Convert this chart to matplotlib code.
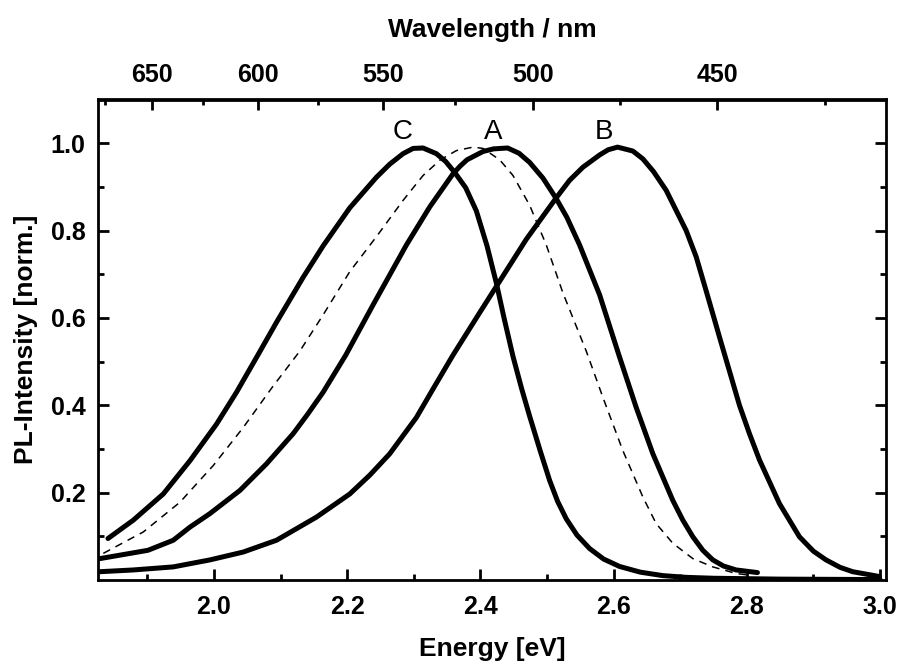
import matplotlib
matplotlib.use('Agg')
import matplotlib.pyplot as plt
import numpy as np

plt.rcParams['font.family'] = ['Liberation Sans', 'DejaVu Sans']
plt.rcParams['font.weight'] = 'bold'

# ---- data ----
C_E = [1.841, 1.879, 1.924, 1.964, 2.004, 2.034, 2.066, 2.094, 2.134, 2.164, 2.204, 2.244,
       2.264, 2.284, 2.299, 2.314, 2.334, 2.348, 2.362, 2.378, 2.394, 2.410, 2.424, 2.436,
       2.449, 2.462, 2.474, 2.490, 2.504, 2.516, 2.529, 2.545, 2.564, 2.585, 2.609, 2.640,
       2.674, 2.710, 2.750, 2.850, 3.000]
C_I = [0.095, 0.137, 0.197, 0.273, 0.357, 0.430, 0.515, 0.590, 0.693, 0.765, 0.852, 0.922,
       0.952, 0.976, 0.988, 0.989, 0.976, 0.958, 0.932, 0.898, 0.845, 0.765, 0.680, 0.597,
       0.512, 0.438, 0.375, 0.295, 0.228, 0.180, 0.140, 0.103, 0.072, 0.048, 0.031, 0.018,
       0.010, 0.006, 0.004, 0.002, 0.001]

D_E = [1.834, 1.894, 1.949, 1.999, 2.044, 2.087, 2.129, 2.164, 2.204, 2.244, 2.284, 2.314,
       2.340, 2.364, 2.389, 2.404, 2.429, 2.449, 2.474, 2.499, 2.524, 2.559, 2.584, 2.614,
       2.644, 2.664, 2.689, 2.719, 2.749, 2.784, 2.804]
D_I = [0.061, 0.110, 0.178, 0.262, 0.349, 0.440, 0.524, 0.607, 0.706, 0.786, 0.869, 0.926,
       0.962, 0.983, 0.991, 0.988, 0.962, 0.926, 0.858, 0.767, 0.657, 0.524, 0.418, 0.296,
       0.190, 0.129, 0.084, 0.049, 0.030, 0.015, 0.011]

A_E = [1.829, 1.901, 1.939, 1.964, 1.994, 2.039, 2.079, 2.119, 2.140, 2.164, 2.198, 2.239,
       2.289, 2.324, 2.359, 2.370, 2.380, 2.404, 2.420, 2.441, 2.458, 2.474, 2.494, 2.514,
       2.530, 2.549, 2.579, 2.608, 2.634, 2.659, 2.689, 2.704, 2.719, 2.734, 2.749, 2.765,
       2.784, 2.816]
A_I = [0.049, 0.068, 0.091, 0.121, 0.152, 0.205, 0.266, 0.335, 0.378, 0.430, 0.515, 0.630,
       0.767, 0.854, 0.930, 0.948, 0.962, 0.981, 0.987, 0.989, 0.977, 0.956, 0.920, 0.873,
       0.830, 0.767, 0.653, 0.515, 0.395, 0.289, 0.182, 0.137, 0.099, 0.068, 0.046, 0.032,
       0.023, 0.017]

B_E = [1.829, 1.879, 1.939, 1.994, 2.044, 2.094, 2.154, 2.204, 2.234, 2.264, 2.304, 2.330,
       2.359, 2.399, 2.424, 2.469, 2.514, 2.534, 2.554, 2.579, 2.592, 2.606, 2.629, 2.644,
       2.660, 2.679, 2.709, 2.724, 2.739, 2.750, 2.760, 2.775, 2.789, 2.804, 2.819, 2.849,
       2.879, 2.900, 2.919, 2.940, 2.959, 2.999]
B_I = [0.019, 0.023, 0.030, 0.046, 0.064, 0.091, 0.144, 0.197, 0.240, 0.289, 0.372, 0.440,
       0.515, 0.612, 0.672, 0.780, 0.875, 0.915, 0.945, 0.973, 0.985, 0.991, 0.982, 0.964,
       0.935, 0.892, 0.800, 0.740, 0.662, 0.604, 0.551, 0.473, 0.400, 0.335, 0.275, 0.175,
       0.099, 0.066, 0.046, 0.029, 0.019, 0.008]

curve_labels = ['C', 'A', 'B']
label_E = [2.284, 2.419, 2.585]
label_I = [1.010, 1.010, 1.010]

x_major = [2.0, 2.2, 2.4, 2.6, 2.8, 3.0]
x_minor = [1.9, 2.1, 2.3, 2.5, 2.7, 2.9]
y_major = [0.2, 0.4, 0.6, 0.8, 1.0]
y_minor = [0.1, 0.3, 0.5, 0.7, 0.9]
wl_major = [650, 600, 550, 500, 450]
wl_minor = [675, 625, 575, 525, 475, 425]

HC = 1239.84

fig = plt.figure(figsize=(9.01, 6.64), dpi=100)
ax = fig.add_axes([98/901, 1 - 580/664, (886 - 98)/901, (580 - 99.5)/664])

lw = 3.6
for e, i in ((C_E, C_I), (A_E, A_I), (B_E, B_I)):
    ax.plot(e, i, color='black', lw=lw, solid_joinstyle='round', solid_capstyle='round')
ax.plot(D_E, D_I, color='black', lw=1.1, ls=(0, (5, 4)))

for t, e, i in zip(curve_labels, label_E, label_I):
    ax.text(e, i, t, fontsize=20, fontweight='normal', ha='center', va='baseline')

ax.set_xlim(1.826, 3.009)
ax.set_ylim(0, 1.10)
ax.set_xticks(x_major)
ax.set_xticks(x_minor, minor=True)
ax.set_xticklabels([f'{v:.1f}' for v in x_major])
ax.set_yticks(y_major)
ax.set_yticks(y_minor, minor=True)
ax.set_yticklabels([f'{v:.1f}' for v in y_major])

for s in ax.spines.values():
    s.set_linewidth(2)

TS = 18
ax.tick_params(which='both', direction='in', width=2, labelsize=TS)
ax.tick_params(which='major', length=8)
ax.tick_params(which='minor', length=4.5)
ax.tick_params(axis='y', which='both', left=True, right=True)
ax.tick_params(axis='x', which='both', top=False, bottom=True, pad=11)
ax.tick_params(axis='y', pad=9)

def e2w(e):
    e = np.asarray(e, dtype=float)
    with np.errstate(divide='ignore', invalid='ignore'):
        return HC / e

sec = ax.secondary_xaxis('top', functions=(e2w, e2w))
sec.set_xticks(wl_major)
sec.set_xticks(wl_minor, minor=True)
sec.set_xticklabels([str(v) for v in wl_major])
sec.tick_params(which='both', direction='in', width=2, labelsize=TS, pad=9)
sec.tick_params(which='major', length=8)
sec.tick_params(which='minor', length=4.5)
sec.spines['top'].set_linewidth(2)
sec.set_xlabel('Wavelength / nm', fontsize=19, fontweight='bold', labelpad=19)

ax.set_xlabel('Energy [eV]', fontsize=19, fontweight='bold', labelpad=13)
ax.set_ylabel('PL-Intensity [norm.]', fontsize=19, fontweight='bold', labelpad=9)

fig.savefig('out.png', dpi=100)
